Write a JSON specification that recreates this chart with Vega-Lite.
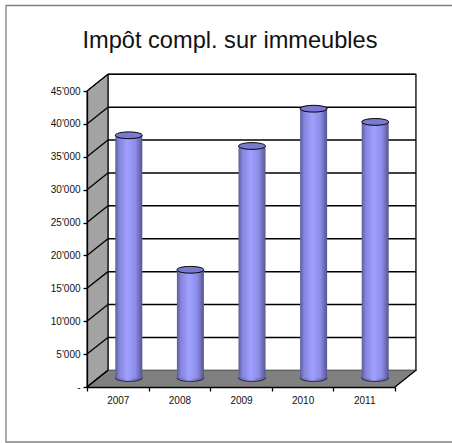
{"$schema":"https://vega.github.io/schema/vega-lite/v6.json","width":308,"height":296,"autosize":"none","padding":{"left":87,"top":91,"right":57,"bottom":56},"background":"white","config":{"view":{"stroke":null},"font":"Liberation Sans"},"title":{"text":"Impôt compl. sur immeubles","font":"Liberation Sans","fontSize":23.6,"fontWeight":"normal","color":"#111111","anchor":"middle","frame":"group","baseline":"alphabetic","dx":-11,"offset":-67},"datasets":{"bars":[{"year":"2007","v":36900},{"year":"2008","v":16450},{"year":"2009","v":35270},{"year":"2010","v":40940},{"year":"2011","v":38930}],"grid":[{"y":0,"y2":2540},{"y":5000,"y2":7540},{"y":10000,"y2":12540},{"y":15000,"y2":17540},{"y":20000,"y2":22540},{"y":25000,"y2":27540},{"y":30000,"y2":32540},{"y":35000,"y2":37540},{"y":40000,"y2":42540},{"y":45000,"y2":47540}],"side":[{"p":0,"lo":0,"hi":45000},{"p":0.34,"lo":2540,"hi":47540}],"floor":[{"p":0,"lo":0,"hi":0},{"p":0.34,"lo":0,"hi":2540},{"p":5,"lo":0,"hi":2540},{"p":5.34,"lo":2540,"hi":2540}],"diag":[{"k":"a","p":0,"y":0},{"k":"a","p":0.34,"y":2540},{"k":"b","p":5,"y":0},{"k":"b","p":5.34,"y":2540}],"frame":[{"a":-1.315,"b":6.05,"lo":-8360,"hi":58000}]},"layer":[{"data":{"name":"frame"},"mark":{"type":"rect","fill":"white","stroke":"#808080","strokeWidth":1.3,"clip":false},"encoding":{"x":{"field":"a","type":"quantitative","scale":{"domain":[0,5],"nice":false,"zero":false},"axis":null},"x2":{"field":"b"},"y":{"field":"lo","type":"quantitative","scale":{"domain":[0,45000],"nice":false},"axis":{"orient":"left","title":null,"zindex":1,"values":[0,5000,10000,15000,20000,25000,30000,35000,40000,45000],"tickCount":10,"labelOverlap":false,"labelExpr":"datum.value==0?'-':replace(format(datum.value,','),',',\"'\")","tickSize":4,"tickColor":"black","domainColor":"black","domainWidth":1.3,"tickWidth":1.3,"labelColor":"#111111","labelFont":"Liberation Sans","labelFontSize":10,"labelPadding":3,"grid":false}},"y2":{"field":"hi"}}},{"data":{"values":[{"a":0.34,"b":5.34,"lo":2540,"hi":47540}]},"mark":{"type":"rect","fill":"white","stroke":"black","strokeWidth":1.3},"encoding":{"x":{"field":"a","type":"quantitative","scale":{"domain":[0,5],"nice":false,"zero":false},"axis":null},"x2":{"field":"b"},"y":{"field":"lo","type":"quantitative"},"y2":{"field":"hi"}}},{"data":{"name":"side"},"mark":{"type":"area","fill":"#a3a3a3","stroke":"black","strokeWidth":1},"encoding":{"x":{"field":"p","type":"quantitative","scale":{"domain":[0,5],"nice":false,"zero":false},"axis":null},"y":{"field":"lo","type":"quantitative"},"y2":{"field":"hi"}}},{"data":{"name":"floor"},"mark":{"type":"area","fill":"#808080"},"encoding":{"x":{"field":"p","type":"quantitative","scale":{"domain":[0,5],"nice":false,"zero":false},"axis":null},"y":{"field":"lo","type":"quantitative"},"y2":{"field":"hi"}}},{"data":{"name":"diag"},"mark":{"type":"line","stroke":"black","strokeWidth":1.3},"encoding":{"detail":{"field":"k"},"x":{"field":"p","type":"quantitative","scale":{"domain":[0,5],"nice":false,"zero":false},"axis":null},"y":{"field":"y","type":"quantitative"}}},{"data":{"name":"grid"},"transform":[{"filter":"datum.y>0"}],"mark":{"type":"rule","stroke":"black","strokeWidth":1.5},"encoding":{"x":{"datum":0.34,"type":"quantitative","scale":{"domain":[0,5],"nice":false,"zero":false},"axis":null},"x2":{"datum":5.34},"y":{"field":"y2","type":"quantitative"}}},{"data":{"name":"grid"},"mark":{"type":"rule","stroke":"black","strokeWidth":1.3},"encoding":{"x":{"datum":0,"type":"quantitative","scale":{"domain":[0,5],"nice":false,"zero":false},"axis":null},"x2":{"datum":0.34},"y":{"field":"y","type":"quantitative"},"y2":{"field":"y2"}}},{"data":{"name":"bars"},"mark":{"type":"point","filled":true,"fill":{"gradient":"linear","x1":0,"x2":1,"y1":0,"y2":0,"stops":[{"offset":0,"color":"#5c5c9c"},{"offset":0.45,"color":"#a0a0ff"},{"offset":1,"color":"#55558f"}]},"stroke":"#222244","strokeWidth":1,"size":729,"shape":"M-1,0A1,0.25 0 1,0 1,0A1,0.25 0 1,0 -1,0Z","xOffset":11,"yOffset":-9,"opacity":1},"encoding":{"x":{"field":"year","type":"nominal","scale":{"paddingInner":0,"paddingOuter":0},"axis":null},"y":{"datum":0,"type":"quantitative"}}},{"data":{"name":"bars"},"mark":{"type":"bar","size":27,"xOffset":11,"yOffset":-9,"y2Offset":-9,"clip":false,"fill":{"gradient":"linear","x1":0,"x2":1,"y1":0,"y2":0,"stops":[{"offset":0,"color":"#5c5c9c"},{"offset":0.15,"color":"#8585dd"},{"offset":0.45,"color":"#a0a0ff"},{"offset":0.75,"color":"#8c8ce8"},{"offset":1,"color":"#55558f"}]}},"encoding":{"x":{"field":"year","type":"nominal","scale":{"paddingInner":0,"paddingOuter":0},"axis":{"orient":"bottom","title":null,"zindex":1,"labelAngle":0,"tickBand":"extent","tickSize":4,"tickColor":"black","domainColor":"black","domainWidth":1.5,"tickWidth":1.3,"labelColor":"#111111","labelFont":"Liberation Sans","labelFontSize":10,"labelPadding":4,"grid":false}},"y":{"field":"v","type":"quantitative"},"y2":{"datum":0}}},{"data":{"name":"bars"},"mark":{"type":"point","filled":true,"fill":"#7a7ad0","stroke":"black","strokeWidth":1,"size":729,"shape":"M-1,0A1,0.25 0 1,0 1,0A1,0.25 0 1,0 -1,0Z","xOffset":11,"yOffset":-9,"opacity":1},"encoding":{"x":{"field":"year","type":"nominal","scale":{"paddingInner":0,"paddingOuter":0},"axis":null},"y":{"field":"v","type":"quantitative"}}}],"resolve":{"scale":{"x":"independent"},"axis":{"x":"independent"}}}
